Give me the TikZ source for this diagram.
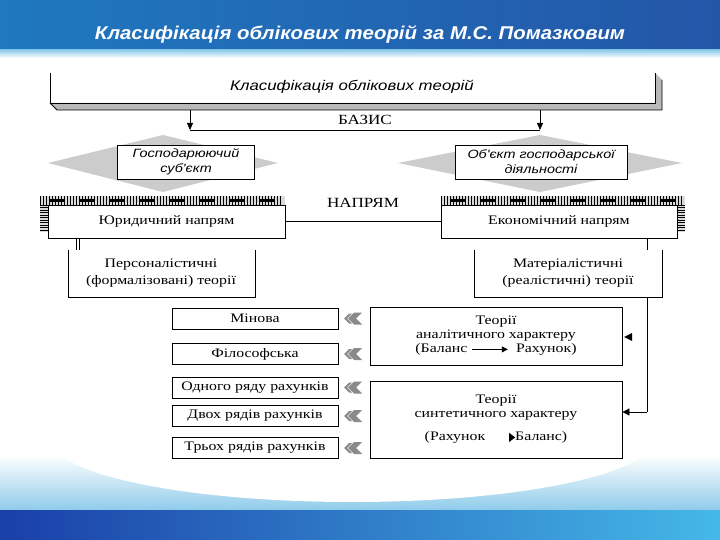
\documentclass[tikz,border=0pt]{standalone}
\usepackage{fontspec}
\setmainfont[FakeStretch=1.22]{Liberation Serif}
\newfontfamily\sansf[FakeStretch=1.2]{Liberation Sans}
\newfontfamily\titlef[FakeStretch=1.1]{Liberation Sans}
\usetikzlibrary{arrows.meta}
\definecolor{hdrA}{HTML}{1F78C0}
\definecolor{hdrB}{HTML}{2456A8}
\definecolor{lb}{HTML}{8FCBEA}
\definecolor{botA}{HTML}{1A3FA8}
\definecolor{botB}{HTML}{45B8E8}
\definecolor{chev}{HTML}{8A8A8A}
\begin{document}
\begin{tikzpicture}[x=1pt,y=-1pt,
  bx/.style={draw,thick,fill=white,inner sep=1pt,align=center,font=\fontsize{13}{14}\selectfont},
  ibx/.style={bx,font=\sansf\itshape\fontsize{12}{15}\selectfont},
  lbl/.style={font=\fontsize{14}{15}\selectfont},
  arr/.style={-{Triangle[length=7pt,width=6pt]},thick}]
\useasboundingbox (0,0) rectangle (720,540);
% header
\shade[left color=hdrA,right color=hdrB] (0,0) rectangle (720,50);
\shade[top color=lb,bottom color=white] (0,50) rectangle (720,58);
\node[text=white,font=\titlef\bfseries\itshape\fontsize{18.5}{20}\selectfont] (title) at (360,34) {Класифікація облікових теорій за М.С. Помазковим};
% footer
\shade[top color=white,bottom color=lb] (0,455) rectangle (720,510);
\fill[white] (352,440) ellipse (300 and 62);
\shade[left color=botA,right color=botB] (0,510) rectangle (720,540);
% top box
\fill[gray!55] (50,103)--(655,103)--(662,110)--(57,110)--cycle;
\fill[gray!55] (655,73)--(662,80)--(662,110)--(655,103)--cycle;
\draw[thick] (50,73)--(50,103)--(655,103)--(655,73);
\draw[thick] (662,80)--(662,110)--(57,110)--(50,103);
\node[font=\sansf\itshape\fontsize{14}{15}\selectfont] (top) at (352,87) {Класифікація облікових теорій};
\coordinate (a1) at (190,110); \coordinate (a2) at (540,110);
\coordinate (b1) at (190,130); \coordinate (b2) at (540,130);
\draw[arr] (a1)--(b1); \draw[arr] (a2)--(b2);
\draw[thick] (b1)--(b2);
\node[lbl,fill=white,inner sep=1pt] (bazis) at (365,120) {БАЗИС};
% diamonds
\fill[gray!40] (48,163)--(163,135)--(278,163)--(163,192)--cycle;
\fill[gray!40] (398,163)--(540,135)--(682,163)--(540,192)--cycle;
\node[ibx,minimum width=137pt,minimum height=34pt] (gs) at (186,162) {Господарюючий\\суб'єкт};
\node[ibx,minimum width=172pt,minimum height=34pt] (ob) at (541,162) {Об'єкт господарської\\діяльності};
% hatched bars
\foreach \xa/\xb in {40/285,441/685}{
  \fill[gray!30] (\xa,196) rectangle (\xb,205);
  \foreach \i in {0,3,...,240}{\draw[line width=0.4pt] ({\xa+\i},196)--({\xa+\i},205);}
  \foreach \i in {10,40,...,230}{\fill ({\xa+\i},199) rectangle ({\xa+\i+15},202);}
}
\fill[gray!30] (40,205) rectangle (48,232);
\foreach \j in {0,2.5,...,25}{\draw[line width=0.4pt] (40,205+\j)--(48,205+\j);}
\fill[gray!30] (677,205) rectangle (685,232);
\foreach \j in {0,2.5,...,25}{\draw[line width=0.4pt] (677,205+\j)--(685,205+\j);}
\node[bx,minimum width=237pt,minimum height=33pt] (jur) at (166.5,221.5) {Юридичний напрям};
\node[bx,minimum width=236pt,minimum height=33pt] (eko) at (559,221.5) {Економічний напрям};
\draw[thick] (jur.east)--(eko.west);
\node[lbl,fill=white,inner sep=1pt] (napr) at (363,203) {НАПРЯМ};
% theories
\draw[thick] (68,250)--(68,297)--(255,297)--(255,250);
\node[font=\fontsize{13}{17}\selectfont,align=center] (pers) at (161,273) {Персоналістичні\\(формалізовані) теорії};
\draw[thick] (76,238)--(76,250); \draw[thick] (79,238)--(79,250);
\draw[thick] (474,250)--(474,297)--(662,297)--(662,250);
\node[font=\fontsize{13}{17}\selectfont,align=center] (mat) at (568,273) {Матеріалістичні\\(реалістичні) теорії};
\draw[thick] (647,238)--(647,250);
% left list
\foreach \n/\y/\t in {m1/318.5/Мінова,m2/354/Філософська,m3/387.5/Одного ряду рахунків,m4/416/Двох рядів рахунків,m5/448/Трьох рядів рахунків}{
  \node[bx,minimum width=166pt,minimum height=21pt] (\n) at (255,\y) {\t};
  \fill[chev] (348,\y)--(354,\y-6)--(362,\y-6)--(356,\y)--(362,\y+6)--(354,\y+6)--cycle;
  \fill[chev] (344,\y)--(349,\y-5)--(352,\y-5)--(347,\y)--(352,\y+5)--(349,\y+5)--cycle;
}
\node[bx,minimum width=252pt,minimum height=58pt] (an) at (496,336) {Теорії\\аналітичного характеру\\(Баланс \tikz[baseline=-3.5pt]\draw[-{Triangle[length=6pt,width=6pt]},thick] (0,0)--(36pt,0); \ Рахунок)};
\node[bx,minimum width=252pt,minimum height=77pt,align=center] (sy) at (496,419.5) {Теорії\\синтетичного характеру\\[9pt](Рахунок\hspace{24pt}\tikz[baseline=-3.5pt]\fill (0,-4.5pt)--(6pt,0)--(0,4.5pt)--cycle;Баланс)};
\fill (624,337)--(632,333)--(632,341)--cycle;
\coordinate (c1) at (647,297); \coordinate (c2) at (647,412);
\draw[thick] (c1)--(c2);
\draw[-{Triangle[length=7pt,width=7pt]},thick] (c2)--(sy.east|-c2);
\end{tikzpicture}
\end{document}
